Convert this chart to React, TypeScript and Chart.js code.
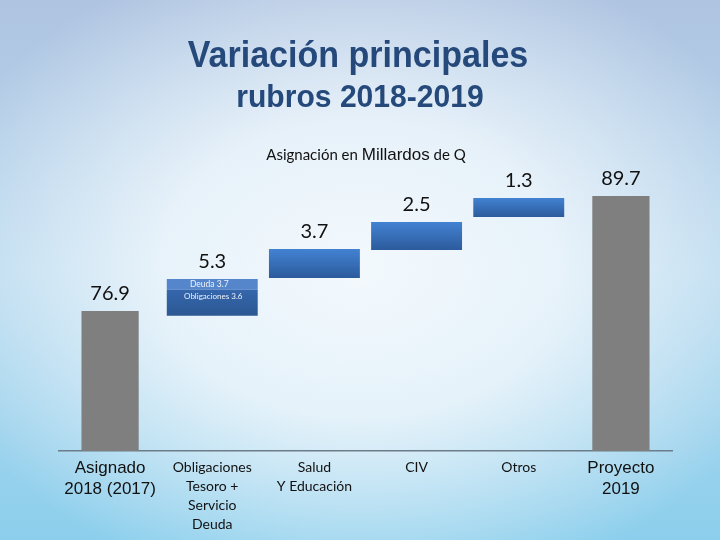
import React, { useEffect, useRef } from "react";
import { Chart, registerables } from "chart.js";
Chart.register(...registerables);

const categories: string[][] = [
  ["Asignado", "2018 (2017)"],
  ["Obligaciones", "Tesoro +", "Servicio", "Deuda"],
  ["Salud", "Y Educación"],
  ["CIV"],
  ["Otros"],
  ["Proyecto", "2019"],
];
const totals = [76.9, null, null, null, null, 89.7];
const stepLow = [null, 76.35, 80.56, 83.68, 87.35, null];
const stepHigh = [null, 79.25, 83.79, 86.8, 89.47, null];
const deudaLow = [null, 79.25, null, null, null, null];
const deudaHigh = [null, 80.45, null, null, null, null];
const valueLabels = ["76.9", "5.3", "3.7", "2.5", "1.3", "89.7"];
const innerLabels = ["Deuda 3.7", "Obligaciones 3.6"];
const titleLines = ["Variación principales", "rubros 2018-2019"];
const captionParts = ["Asignación en ", "Millardos", " de Q"];
const yMin = 61.3;
const yMax = 93.7;

const bgPlugin = {
  id: "bg",
  beforeDraw(chart: any) {
    const { ctx, width, height } = chart;
    ctx.save();
    const lg = ctx.createLinearGradient(0, 0, 0, height);
    lg.addColorStop(0, "#AFC4E1");
    lg.addColorStop(0.5, "#B6D8EE");
    lg.addColorStop(1, "#8CCFEC");
    ctx.fillStyle = lg;
    ctx.fillRect(0, 0, width, height);
    ctx.translate(360, 270);
    ctx.scale(1.35, 1);
    const rg = ctx.createRadialGradient(0, 0, 0, 0, 0, 330);
    rg.addColorStop(0, "rgba(243,249,253,1)");
    rg.addColorStop(0.45, "rgba(240,247,252,0.85)");
    rg.addColorStop(1, "rgba(240,247,252,0)");
    ctx.fillStyle = rg;
    ctx.fillRect(-400, -400, 800, 800);
    ctx.restore();
  },
};

const textPlugin = {
  id: "texts",
  afterDraw(chart: any) {
    const { ctx } = chart;
    const x = chart.scales.x;
    const y = chart.scales.y;
    ctx.save();
    // Title (slightly condensed)
    ctx.fillStyle = "#24497A";
    ctx.textAlign = "center";
    ctx.textBaseline = "alphabetic";
    ctx.save();
    ctx.translate(358, 67);
    ctx.scale(0.92, 1);
    ctx.font = "bold 37px 'Liberation Sans', Arial, sans-serif";
    ctx.fillText(titleLines[0], 0, 0);
    ctx.restore();
    ctx.save();
    ctx.translate(360, 107);
    ctx.scale(0.94, 1);
    ctx.font = "bold 32px 'Liberation Sans', Arial, sans-serif";
    ctx.fillText(titleLines[1], 0, 0);
    ctx.restore();
    // Caption with mixed fonts
    const fonts = ["15px Lato", "17px 'Liberation Sans', Arial", "15px Lato"];
    let total = 0;
    const widths = captionParts.map((p, i) => {
      ctx.font = fonts[i];
      const w = ctx.measureText(p).width;
      total += w;
      return w;
    });
    let cx = 366 - total / 2;
    ctx.fillStyle = "#111";
    ctx.textAlign = "left";
    captionParts.forEach((p, i) => {
      ctx.font = fonts[i];
      ctx.fillText(p, cx, 160);
      cx += widths[i];
    });
    // Value labels
    ctx.textAlign = "center";
    ctx.font = "20px Lato";
    ctx.fillStyle = "#111";
    valueLabels.forEach((lab, i) => {
      const vals = [totals[i], stepHigh[i], deudaHigh[i]].filter((v) => v != null) as number[];
      const top = Math.max(...vals);
      ctx.fillText(lab, x.getPixelForValue(i), y.getPixelForValue(top) - 11);
    });
    // Inner labels on bar 2
    ctx.fillStyle = "#EEF3FA";
    ctx.textBaseline = "middle";
    const bx = x.getPixelForValue(1);
    ctx.font = "8.5px Lato";
    ctx.fillText(innerLabels[0], bx - 3, (y.getPixelForValue(deudaLow[1] as number) + y.getPixelForValue(deudaHigh[1] as number)) / 2);
    ctx.font = "8px Lato";
    ctx.fillText(innerLabels[1], bx + 1, y.getPixelForValue(stepHigh[1] as number) + 7);
    ctx.restore();
  },
};

function blueGradient(c: any, top: string, bottom: string) {
  const chart = c.chart;
  const raw = c.raw;
  if (!raw || !chart.scales || !chart.scales.y) return top;
  const ys = chart.scales.y;
  const y0 = ys.getPixelForValue(raw[1]);
  const y1 = ys.getPixelForValue(raw[0]);
  if (!isFinite(y0) || !isFinite(y1)) return top;
  const g = chart.ctx.createLinearGradient(0, y0, 0, y1);
  g.addColorStop(0, top);
  g.addColorStop(1, bottom);
  return g;
}

export default function App() {
  const ref = useRef<HTMLCanvasElement>(null);
  useEffect(() => {
    if (!ref.current) return;
    const chart = new Chart(ref.current, {
      type: "bar",
      data: {
        labels: categories,
        datasets: [
          {
            label: "Total",
            data: totals,
            backgroundColor: "#7F7F7F",
            barPercentage: 0.56,
            categoryPercentage: 1,
          },
          {
            label: "Variación",
            data: stepLow.map((v, i) => (v == null ? null : [v, stepHigh[i] as number])),
            backgroundColor: (c: any) =>
              c.dataIndex === 1 ? blueGradient(c, "#3566AC", "#2C5893") : blueGradient(c, "#4282D2", "#2C5B9C"),
            barPercentage: 0.89,
            categoryPercentage: 1,
          },
          {
            label: "Deuda",
            data: deudaLow.map((v, i) => (v == null ? null : [v, deudaHigh[i] as number])),
            backgroundColor: "#5585CB",
            barPercentage: 0.89,
            categoryPercentage: 1,
          },
        ] as any,
      },
      options: {
        animation: false,
        responsive: false,
        devicePixelRatio: 1,
        layout: { padding: { top: 160, left: 59, right: 48, bottom: 0 } },
        plugins: { legend: { display: false }, tooltip: { enabled: false }, title: { display: false } },
        scales: {
          x: {
            stacked: true,
            offset: true,
            grid: { display: false, drawTicks: false },
            border: { display: true, color: "#6C7C88", width: 1.5 },
            afterFit: (s: any) => {
              s.height = 89;
            },
            ticks: {
              autoSkip: false,
              maxRotation: 0,
              minRotation: 0,
              padding: 7,
              color: "#111",
              font: (c: any) =>
                c.index === 0 || c.index === 5
                  ? { family: "'Liberation Sans', Arial, sans-serif", size: 17, lineHeight: 1.22 }
                  : { family: "Lato, sans-serif", size: 14, lineHeight: 1.36 },
            },
          },
          y: {
            display: false,
            stacked: false,
            min: yMin,
            max: yMax,
          },
        },
      } as any,
      plugins: [bgPlugin, textPlugin],
    });
    return () => chart.destroy();
  }, []);
  return (
    <div style={{ position: "fixed", left: 0, top: 0, width: 720, height: 540 }}>
      <canvas ref={ref} width={720} height={540} style={{ width: 720, height: 540, display: "block" }} />
    </div>
  );
}
